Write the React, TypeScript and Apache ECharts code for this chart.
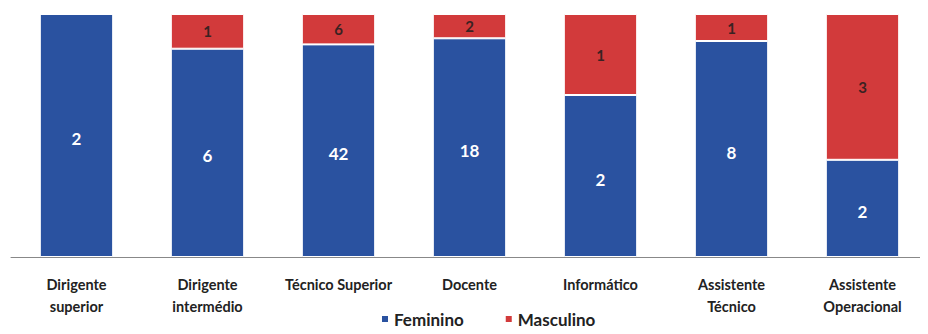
import React, { useEffect, useRef } from "react";
import * as echarts from "echarts";

const categories = [
  "Dirigente\nsuperior",
  "Dirigente\nintermédio",
  "Técnico Superior",
  "Docente",
  "Informático",
  "Assistente\nTécnico",
  "Assistente\nOperacional",
];
const feminino = [2, 6, 42, 18, 2, 8, 2];
const masculino = [0, 1, 6, 2, 1, 1, 3];

const pct = (v: number, i: number) => {
  const total = feminino[i] + masculino[i];
  return total ? (v / total) * 100 : 0;
};

export default function App() {
  const ref = useRef<HTMLDivElement>(null);

  useEffect(() => {
    if (!ref.current) return;
    const chart = echarts.init(ref.current, undefined, { renderer: "svg" });
    const font = "Lato, 'Open Sans', 'DejaVu Sans', sans-serif";
    chart.setOption({
      animation: false,
      grid: { left: 11, top: 14, width: 927, bottom: 77, containLabel: false },
      legend: {
        top: 309,
        left: 380,
        padding: 0,
        itemWidth: 8,
        itemHeight: 8,
        itemGap: 40,
        icon: "rect",
        textStyle: { fontFamily: font, fontWeight: "bold", fontSize: 17, lineHeight: 20, color: "#222" },
        data: ["Feminino", "Masculino"],
      },
      xAxis: {
        type: "category",
        data: categories,
        axisLine: { lineStyle: { color: "#888", width: 1 } },
        axisTick: { show: false },
        axisLabel: {
          interval: 0,
          margin: 16,
          fontFamily: font,
          fontWeight: "bold",
          fontSize: 14.5,
          lineHeight: 22,
          color: "#222",
        },
      },
      yAxis: { type: "value", min: 0, max: 100, show: false, splitLine: { show: false } },
      series: [
        {
          name: "Feminino",
          type: "bar",
          stack: "total",
          barWidth: "56%",
          itemStyle: { color: "#2A52A0", borderColor: "#fff", borderWidth: 1 },
          label: {
            show: true,
            position: "inside",
            offset: [0, 3],
            color: "#fff",
            fontFamily: font,
            fontWeight: "bold",
            fontSize: 17,
            formatter: (p: any) => (feminino[p.dataIndex] ? String(feminino[p.dataIndex]) : ""),
          },
          data: feminino.map((v, i) => pct(v, i)),
        },
        {
          name: "Masculino",
          type: "bar",
          stack: "total",
          itemStyle: { color: "#D23A3B", borderColor: "#fff", borderWidth: 1 },
          label: {
            show: true,
            position: "inside",
            color: "#3a2222",
            fontFamily: font,
            fontWeight: "bold",
            fontSize: 15,
            formatter: (p: any) => (masculino[p.dataIndex] ? String(masculino[p.dataIndex]) : ""),
          },
          data: masculino.map((v, i) => pct(v, i)),
        },
      ],
    });
    return () => chart.dispose();
  }, []);

  return <div ref={ref} style={{ width: 928, height: 334, margin: -8 }} />;
}
